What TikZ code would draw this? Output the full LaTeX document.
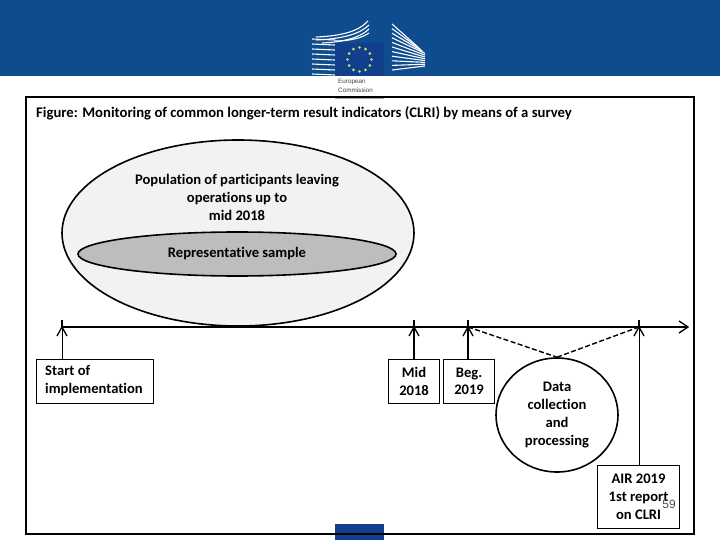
\documentclass[tikz,border=0pt]{standalone}
\usepackage{fontspec}
\setmainfont[Ligatures=NoCommon]{Carlito}
\newfontfamily\logofont{Liberation Sans}
\usetikzlibrary{arrows.meta,shapes.geometric,calc}
\definecolor{ecblue}{HTML}{0F4C8E}
\definecolor{flagblue}{HTML}{123F8C}
\definecolor{outerfill}{HTML}{F2F2F2}
\definecolor{innerfill}{HTML}{BDBDBD}
\definecolor{starcol}{HTML}{C8E070}
\tikzset{
 lbl/.style={font=\bfseries\fontsize{14.6}{18}\selectfont,text=black,align=center,inner sep=0pt},
 tbox/.style={draw=black,line width=1.1pt,fill=white,minimum height=44pt,inner sep=0pt,align=center,font=\bfseries\fontsize{14.6}{17.5}\selectfont,text=black},
 vee/.style={line width=1.3pt,line join=miter},
 up/.style={line width=1.6pt},
 dsh/.style={line width=1.4pt,dash pattern=on 5pt off 2.5pt},
 strip/.style={white,line width=1.1pt}
}
\begin{document}
\begin{tikzpicture}[x=1pt,y=-1pt]
\useasboundingbox (0,0) rectangle (720,540);
\fill[white] (0,0) rectangle (720,540);
\fill[ecblue] (0,0) rectangle (720,76);
% logo building
\foreach \y in {40,45,50,55,60,65,70,75}{
  \draw[strip] (312,{\y-1}) -- (335,\y);
}
\draw[strip] (316,37) .. controls (340,36) and (358,32) .. (368,21);
\draw[strip] (316,40) .. controls (342,39) and (360,34) .. (369,25);
\draw[strip] (322,43) .. controls (345,42) and (361,37) .. (369,29);
\draw[strip] (335,41) .. controls (350,41) and (362,38) .. (369,33);
\foreach \i in {0,1,...,10}{
  \draw[strip] (392,{24+\i*4.6}) -- ({425-(\i<3?(3-\i)*2:0)},{48+\i*1.8});
}
\fill[flagblue] (335,43) rectangle (384,76);
\foreach \a in {0,30,...,330}{
  \fill[starcol] ({359.5+12*cos(\a)},{59.5+12*sin(\a)}) circle (1.4pt);
}
\fill[black!35] (335,97) rectangle (384,99);
\node[font=\logofont\fontsize{6.3}{9}\selectfont,text=black!75,align=left,inner sep=0pt,anchor=west] (logotext) at (338,85.5) {European\\Commission};
% bottom tab
\fill[flagblue] (335,524) rectangle (384,540);
% frame
\draw[black,line width=2.1pt] (26,97) rectangle (694,534);
\node[font=\bfseries\fontsize{14.7}{16}\selectfont,text=black,anchor=west,inner sep=0pt] (title) at (36,113) {Figure: Monitoring of common longer-term result indicators (CLRI) by means of a survey};
% ellipses
\node[draw=black,line width=1.6pt,fill=outerfill,ellipse,minimum width=352pt,minimum height=186pt,inner sep=0pt] (pop) at (238,233) {};
\node[draw=black,line width=1.6pt,fill=innerfill,ellipse,minimum width=318pt,minimum height=44pt,inner sep=0pt] (sample) at (237,254) {};
\node[lbl] (poptext) at (237,197) {Population of participants leaving\\operations up to\\mid 2018};
\node[lbl] (sampletext) at (237,254) {Representative sample};
% timeline
\coordinate (t0) at (62,327);
\coordinate (t1) at (414,327);
\coordinate (t2) at (468,327);
\coordinate (t3) at (639,327);
\coordinate (tend) at (688,327);
\coordinate (t0u) at (62,320);
\coordinate (t1u) at (414,320);
\coordinate (t2u) at (468,320);
\coordinate (t3u) at (639,320);
\draw[line width=1.5pt] (t0) -- (tend);
\draw[vee] ($(tend)+(-9,-6)$) -- (tend) -- ($(tend)+(-9,6)$);
% boxes
\node[tbox,minimum width=117pt,anchor=north west] (start) at (36,359) {};
\node[lbl,align=left,anchor=west,font=\bfseries\fontsize{14.6}{17.5}\selectfont] (starttext) at (45,380.5) {Start of\\implementation};
\node[tbox,minimum width=51pt,anchor=north west] (mid) at (388,359) {Mid\\2018};
\node[tbox,minimum width=51pt,anchor=north west] (beg) at (443,359) {Beg.\\2019};
\node[draw=black,line width=1.6pt,fill=white,ellipse,minimum width=122pt,minimum height=114pt,inner sep=0pt,align=center,font=\bfseries\fontsize{14.6}{18}\selectfont,text=black] (data) at (557,415) {Data\\collection\\and\\processing};
\node[tbox,minimum width=82pt,minimum height=63pt,anchor=north west,font=\bfseries\fontsize{14.6}{18}\selectfont] (air) at (597,465) {AIR 2019\\1st report\\on CLRI};
\node[font=\logofont\fontsize{12}{14}\selectfont,text=black!70,inner sep=0pt] (pagenum) at (669,504) {59};
% connectors
\draw[up,line width=1pt] (start.north -| t0) -- (t0);
\draw[up] (mid.north -| t1) -- (t1);
\draw[up] (beg.north -| t2) -- (t2);
\draw[up,line width=1pt] (air.north -| t3) -- (t3);
\foreach \t in {t0,t1,t2,t3}{
  \draw[vee] ($(\t)+(-5,9)$) -- (\t) -- ($(\t)+(5,9)$);
}
\draw[line width=1.2pt] (t0) -- (t0u);
\draw[line width=1.2pt] (t1) -- (t1u);
\draw[line width=1.2pt] (t2) -- (t2u);
\draw[line width=1.2pt] (t3) -- (t3u);
\draw[dsh] (t2) -- (data.north);
\draw[dsh] (data.north) -- (t3);
\end{tikzpicture}
\end{document}
